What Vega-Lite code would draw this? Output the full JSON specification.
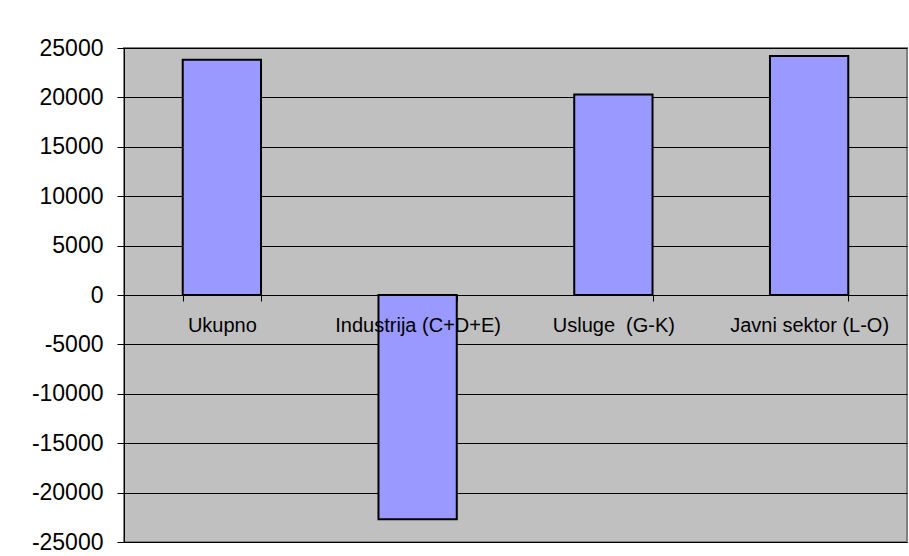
{
  "$schema": "https://vega.github.io/schema/vega-lite/v6.json",
  "width": 783,
  "height": 494,
  "autosize": {"type": "none"},
  "padding": {"left": 124, "top": 48, "right": 2, "bottom": 14},
  "background": "white",
  "config": {
    "view": {"fill": "#C0C0C0", "stroke": "#808080", "strokeWidth": 2},
    "font": "Liberation Sans"
  },
  "data": {
    "values": [
      {"category": "Ukupno", "value": 23800},
      {"category": "Industrija (C+D+E)", "value": -22700},
      {"category": "Usluge  (G-K)", "value": 20300},
      {"category": "Javni sektor (L-O)", "value": 24200}
    ]
  },
  "mark": {"type": "bar", "color": "#9999FF", "stroke": "black", "strokeWidth": 2},
  "encoding": {
    "x": {
      "field": "category",
      "type": "nominal",
      "sort": null,
      "scale": {"paddingInner": 0.6, "paddingOuter": 0.3},
      "axis": {
        "title": null,
        "offset": -247,
        "zindex": 1,
        "tickBand": "extent",
        "domainColor": "black",
        "tickColor": "black",
        "tickSize": 6,
        "labelAngle": 0,
        "labelFontSize": 20,
        "labelColor": "black",
        "labelPadding": 14,
        "labelFont": "Liberation Sans",
        "labelOverlap": false,
        "labelLimit": 300,
        "labelExpr": "replace(datum.label, '  ', ' \u00a0')"
      }
    },
    "y": {
      "field": "value",
      "type": "quantitative",
      "scale": {"domain": [-25000, 25000], "nice": false, "zero": false},
      "axis": {
        "title": null,
        "values": [-25000, -20000, -15000, -10000, -5000, 0, 5000, 10000, 15000, 20000, 25000],
        "labelExpr": "datum.value < 0 ? '-' + abs(datum.value) : '' + datum.value",
        "grid": true,
        "gridColor": "black",
        "gridOpacity": 1,
        "gridWidth": 1,
        "domainColor": "black",
        "tickColor": "black",
        "tickSize": 7,
        "labelFontSize": 23,
        "labelColor": "black",
        "labelPadding": 14,
        "labelFont": "Liberation Sans"
      }
    }
  }
}
